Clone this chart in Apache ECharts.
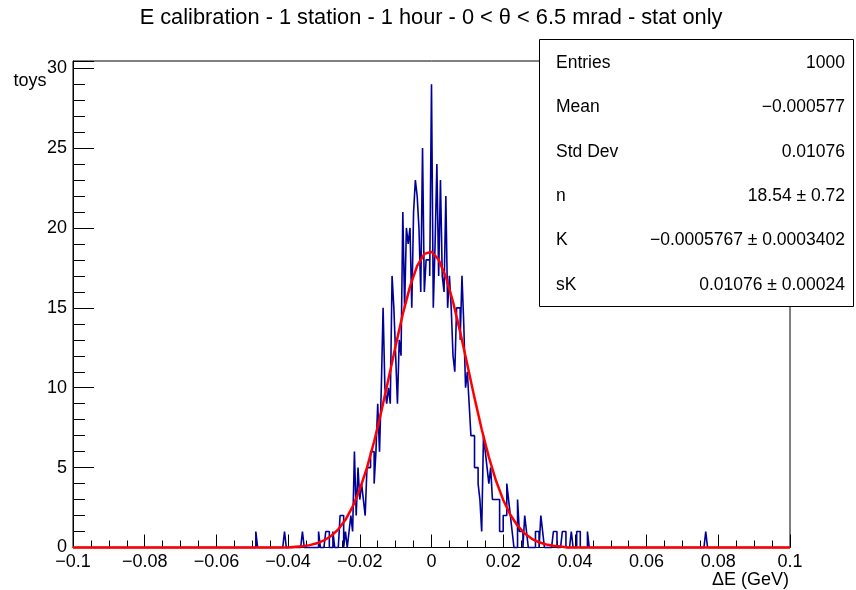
<!DOCTYPE html>
<html>
<head>
<meta charset="utf-8">
<script src="https://cdn.jsdelivr.net/npm/echarts@6/dist/echarts.min.js"></script>
<style>
  html, body { margin: 0; padding: 0; background: #fff; }
  #chart { width: 856px; height: 590px; }
</style>
</head>
<body>
<div id="chart"></div>
<script>
// Histogram binning: 400 bins of 0.0005 GeV over [-0.1, 0.1]
const xMin = -0.1;
const xMax = 0.1;
const binWidth = 0.0005;
const nBins = 400;

// Bin contents starting at the bin whose low edge is countsStart
const countsStart = -0.05;
const counts = [
  0,0,1,0,0,0,0,0,0,0,
  0,0,0,0,0,0,0,0,1,0,
  0,0,0,0,0,0,0,0,1,0,
  0,0,0,0,0,0,0,1,0,0,
  0,1,1,0,0,1,0,0,0,2,
  2,0,1,0,1,2,1,6,2,5,
  3,4,3,2,5,5,6,6,4,6,
  9,6,10,15,10,9,10,9,17,15,
  12,9,13,12,21,15,20,19,20,15,
  21,23,22,20,16,25,16,18,18,17,
  29,15,19,24,17,23,17,16,22,15,
  17,15,12,11,15,15,13,17,14,10,
  11,9,7,7,5,5,4,3,1,7,
  6,5,4,5,3,3,3,3,1,1,
  2,2,4,3,2,1,0,0,3,1,
  1,0,2,1,0,0,0,0,1,1,
  0,2,1,0,0,0,0,0,1,1,
  0,0,0,1,1,0,0,0,1,0,
  0,1,1,0,0,0,0,1,0,0,
  0,0,0,0,0,0,0,0,0,0,
  0,0,0,0,0,0,0,0,0,0,
  0,0,0,0,0,0,0,0,0,0,
  0,0,0,0,0,0,0,0,0,0,
  0,0,0,0,0,0,0,0,0,0,
  0,0,0,0,0,0,0,0,0,0,
  0,0,0,1,0,0,0,0,0,0
];

// Gaussian fit curve, sampled every 0.002 GeV (zero outside the listed span)
const fitStep = 0.002;
const fitStart = -0.038;
const fitValues = [
  0.044,0.082,0.149,0.261,0.441,0.721,1.137,1.734,2.555,3.636,
  4.998,6.637,8.515,10.553,12.634,14.614,16.329,17.625,18.379,18.513,
  18.016,16.936,15.381,13.494,11.437,9.364,7.405,5.659,4.176,2.978,
  2.052,1.365,0.878,0.545,0.327,0.190,0.106,0.057
];

// Statistics / fit result box
const statLabels = ['Entries', 'Mean', 'Std Dev', 'n', 'K', 'sK'];
const statValues = ['1000', '\u22120.000577', '0.01076', '18.54 \u00b1 0.72',
  '\u22120.0005767 \u00b1 0.0003402', '0.01076 \u00b1 0.00024'];

const titleText = 'E calibration - 1 station - 1 hour - 0 < \u03b8 < 6.5 mrad - stat only';
const xTitle = '\u0394E (GeV)';
const yTitle = 'toys';
const yMax = 30.45;

// Build full bin contents and the step outline
const offset = Math.round((countsStart - xMin) / binWidth);
const full = new Array(nBins).fill(0);
counts.forEach((c, i) => { if (offset + i < nBins) full[offset + i] = c; });
const histData = full.map((c, i) => [xMin + i * binWidth, c]);
histData.push([xMax, full[nBins - 1]]);

const nFit = Math.round((xMax - xMin) / fitStep) + 1;
const fitOffset = Math.round((fitStart - xMin) / fitStep);
const fitData = [];
for (let k = 0; k < nFit; k++) {
  const j = k - fitOffset;
  const v = (j >= 0 && j < fitValues.length) ? fitValues[j] : 0;
  fitData.push([xMin + k * fitStep, v]);
}

const FONT = 'Liberation Sans, Arial, Helvetica, sans-serif';
const fmtX = v => {
  const s = String(Number(v.toFixed(4)));
  return s.replace('-', '\u2212');
};

const box = { x: 539, y: 39, w: 314, h: 267 };
const rowY = [63, 107, 152, 196, 240, 285];
const graphics = [
  { type: 'text', style: { text: titleText, x: 431, y: 18, align: 'center', verticalAlign: 'middle', font: '21.8px ' + FONT, fill: '#000' }, z: 10 },
  { type: 'text', style: { text: xTitle, x: 789, y: 580, align: 'right', verticalAlign: 'middle', font: '18px ' + FONT, fill: '#000' } },
  { type: 'text', style: { text: yTitle, x: 30, y: 81, align: 'center', verticalAlign: 'middle', font: '18px ' + FONT, fill: '#000' } },
  { type: 'rect', shape: { x: box.x + 0.5, y: box.y + 0.5, width: box.w, height: box.h },
    style: { fill: '#fff', stroke: '#000', lineWidth: 1 }, z: 20 }
];
statLabels.forEach((lab, i) => {
  graphics.push({ type: 'text', z: 21, style: { text: lab, x: 556, y: rowY[i], align: 'left', verticalAlign: 'middle', font: '17.5px ' + FONT, fill: '#000' } });
  graphics.push({ type: 'text', z: 21, style: { text: statValues[i], x: 845, y: rowY[i], align: 'right', verticalAlign: 'middle', font: '17.5px ' + FONT, fill: '#000' } });
});

const chart = echarts.init(document.getElementById('chart'), null, { renderer: 'canvas' });
chart.setOption({
  animation: false,
  backgroundColor: '#fff',
  grid: { left: 73, right: 66, top: 61, bottom: 42.5, show: true, borderColor: '#000', borderWidth: 1, backgroundColor: 'transparent' },
  xAxis: {
    type: 'value', min: xMin, max: xMax, interval: 0.02,
    axisLine: { show: true, onZero: false, lineStyle: { color: '#000', width: 1 } },
    axisTick: { show: true, inside: true, length: 13, lineStyle: { color: '#000', width: 1 } },
    minorTick: { show: true, splitNumber: 4, length: 7, lineStyle: { color: '#000', width: 1 } },
    splitLine: { show: false },
    axisLabel: { color: '#000', fontSize: 18, fontFamily: FONT, margin: 6, formatter: fmtX }
  },
  yAxis: {
    type: 'value', min: 0, max: yMax, interval: 5,
    axisLine: { show: true, onZero: false, lineStyle: { color: '#000', width: 1 } },
    axisTick: { show: true, inside: true, length: 21, lineStyle: { color: '#000', width: 1 } },
    minorTick: { show: true, splitNumber: 5, length: 12, lineStyle: { color: '#000', width: 1 } },
    splitLine: { show: false },
    axisLabel: { color: '#000', fontSize: 18, fontFamily: FONT, margin: 6,
      formatter: v => (v % 5 === 0 && v <= 30) ? String(v) : '' }
  },
  graphic: graphics,
  series: [
    {
      type: 'line', name: 'histogram', data: histData, step: 'end',
      showSymbol: false, clip: false, z: 3,
      lineStyle: { color: '#000099', width: 1.6 }
    },
    {
      type: 'line', name: 'fit', data: fitData, smooth: false,
      showSymbol: false, clip: false, z: 4,
      lineStyle: { color: '#ff0000', width: 2.5 }
    }
  ]
});
</script>
</body>
</html>
